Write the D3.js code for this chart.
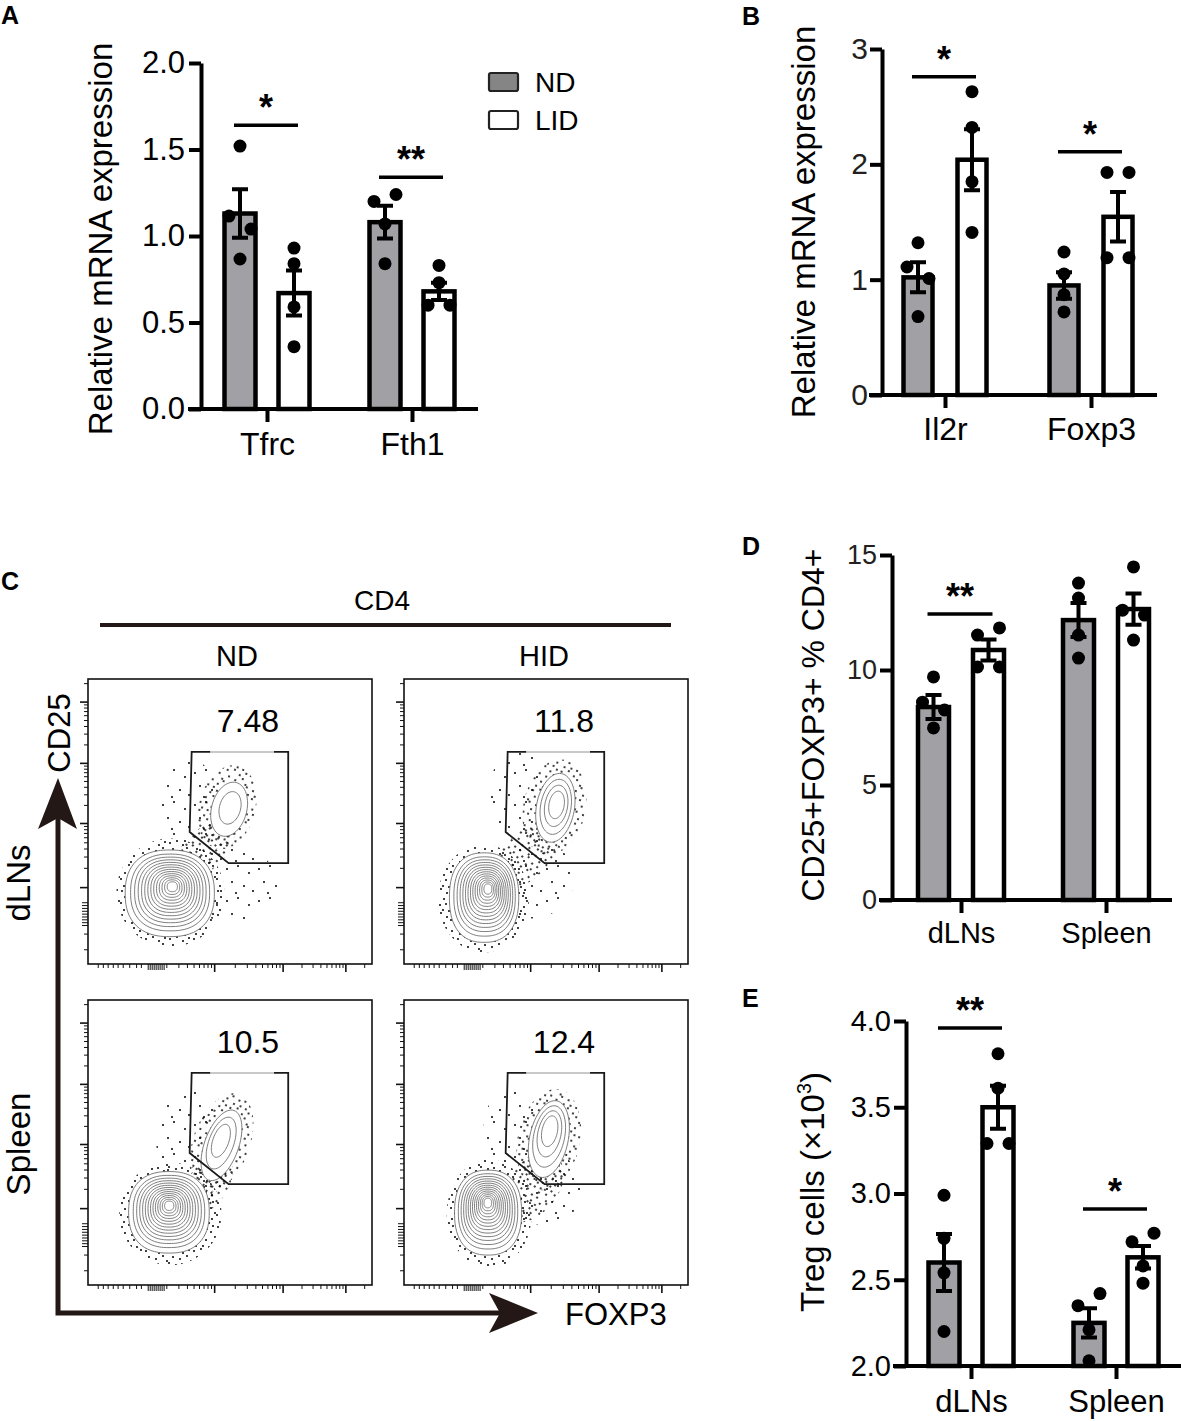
<!DOCTYPE html>
<html>
<head>
<meta charset="utf-8">
<script src="https://cdn.jsdelivr.net/npm/d3@7"></script>
<style>
body { margin: 0; background: #fff; }
svg { display: block; }
</style>
</head>
<body>
<svg id="fig" width="1181" height="1421"></svg>
<script>
// === DATA: A (qPCR, iron genes) ===
const aCats = ['Tfrc', 'Fth1']
const aTicks = [0, 0.5, 1.0, 1.5, 2.0]
const aNdMean = [1.13, 1.08]
const aNdSem = [0.14, 0.095]
const aLidMean = [0.67, 0.68]
const aLidSem = [0.13, 0.05]
const aNdPts = [[1.52, 1.115, 1.04, 0.867], [1.20, 1.24, 1.07, 0.84]]
const aLidPts = [[0.93, 0.84, 0.59, 0.36], [0.83, 0.73, 0.60, 0.60]]
const aNdJit = [[0, -1, 1, 0], [-1, 1, 0, 0]]
const aLidJit = [[0, 0, 0, 0], [0, 0, -1, 1]]
const aSig = [{ cat: 'Tfrc', y: 1.64, t: '*' }, { cat: 'Fth1', y: 1.34, t: '**' }]

// === DATA: B (qPCR, Treg genes) ===
const bCats = ['Il2r', 'Foxp3']
const bTicks = [0, 1, 2, 3]
const bNdMean = [1.02, 0.95]
const bNdSem = [0.13, 0.115]
const bLidMean = [2.04, 1.545]
const bLidSem = [0.265, 0.215]
const bNdPts = [[1.32, 1.11, 1.01, 0.68], [1.24, 1.05, 0.87, 0.72]]
const bLidPts = [[2.63, 2.32, 1.85, 1.41], [1.93, 1.93, 1.19, 1.19]]
const bNdJit = [[0, -1, 1, 0], [0, 0, 0, 0]]
const bLidJit = [[0, 0, 0, 0], [-1, 1, -1, 1]]
const bSig = [{ cat: 'Il2r', y: 2.76, t: '*' }, { cat: 'Foxp3', y: 2.11, t: '*' }]

// === DATA: D (% Treg of CD4) ===
const dCats = ['dLNs', 'Spleen']
const dTicks = [0, 5, 10, 15]
const dNdMean = [8.39, 12.17]
const dNdSem = [0.52, 0.74]
const dLidMean = [10.87, 12.65]
const dLidSem = [0.46, 0.68]
const dNdPts = [[9.70, 8.6, 8.26, 7.48], [13.78, 13.13, 11.52, 10.52]]
const dLidPts = [[11.83, 11.52, 10.13, 10.13], [14.48, 12.6, 12.39, 11.3]]
const dNdJit = [[0, -1, 1, 0], [0, 0, 0, 0]]
const dLidJit = [[1, -1, -1, 1], [0, -1, 1, 0]]
const dSig = [{ cat: 'dLNs', y: 12.43, t: '**' }]

// === DATA: E (Treg counts) ===
const eCats = ['dLNs', 'Spleen']
const eTicks = [2.0, 2.5, 3.0, 3.5, 4.0]
const eNdMean = [2.60, 2.25]
const eNdSem = [0.165, 0.085]
const eLidMean = [3.50, 2.63]
const eLidSem = [0.125, 0.065]
const eNdPts = [[2.99, 2.74, 2.54, 2.20], [2.42, 2.35, 2.21, 2.03]]
const eLidPts = [[3.81, 3.61, 3.29, 3.29], [2.77, 2.72, 2.58, 2.48]]
const eNdJit = [[0, 0, 0, 0], [1, -1, 0, 0]]
const eLidJit = [[0, 0, -1, 1], [1, -1, 0, 0]]
const eSig = [{ cat: 'dLNs', y: 3.96, t: '**' }, { cat: 'Spleen', y: 2.91, t: '*' }]

// === DATA: C (flow plots) ===
const flowCols = ['ND', 'HID']
const flowRows = ['dLNs', 'Spleen']
const flowPct = [['7.48', '11.8'], ['10.5', '12.4']]
// main CD25- blob: outer centre x,y, radius x,y, density peak x,y, levels (box fractions)
const flowMain = [
    [[0.288, 0.752, 0.157, 0.152, 0.298, 0.726, 14], [0.282, 0.767, 0.122, 0.157, 0.297, 0.733, 14]],
    [[0.285, 0.745, 0.142, 0.143, 0.286, 0.719, 14], [0.296, 0.746, 0.118, 0.149, 0.295, 0.708, 14]]
]
// Treg blob: centre x,y, radius x,y, tilt, peak x,y, levels
const flowTreg = [
    [[0.497, 0.457, 0.062, 0.097, 15, 0.505, 0.445, 2], [0.533, 0.452, 0.067, 0.122, 10, 0.540, 0.435, 4]],
    [[0.470, 0.510, 0.060, 0.130, 20, 0.466, 0.480, 3], [0.510, 0.488, 0.068, 0.137, 12, 0.515, 0.442, 4]]
]
// event clouds: centre x,y, radius x,y, tilt, density
const flowClouds = [
    [
        [[0.29, 0.75, 0.19, 0.19, 0, 'd'], [0.49, 0.45, 0.10, 0.15, 15, 'd'], [0.41, 0.60, 0.07, 0.14, 45, 'd'], [0.50, 0.72, 0.17, 0.13, 0, 's'], [0.36, 0.45, 0.10, 0.17, 0, 's']],
        [[0.28, 0.77, 0.16, 0.19, 0, 'd'], [0.53, 0.45, 0.11, 0.17, 12, 'd'], [0.43, 0.62, 0.08, 0.15, 45, 'd'], [0.45, 0.70, 0.15, 0.14, 0, 's'], [0.40, 0.40, 0.10, 0.15, 0, 's']]
    ],
    [
        [[0.29, 0.75, 0.18, 0.18, 0, 'd'], [0.47, 0.50, 0.10, 0.18, 20, 'd'], [0.42, 0.65, 0.07, 0.12, 35, 'd'], [0.36, 0.50, 0.12, 0.18, 0, 's']],
        [[0.30, 0.75, 0.15, 0.19, 0, 'd'], [0.51, 0.49, 0.11, 0.18, 12, 'd'], [0.45, 0.66, 0.09, 0.14, 40, 'd'], [0.49, 0.66, 0.14, 0.13, 0, 's'], [0.38, 0.45, 0.10, 0.14, 0, 's']]
    ]
]
const flowGate = [[0.365, 0.256], [0.705, 0.256], [0.705, 0.646], [0.495, 0.646], [0.358, 0.537]]
const flowXMajor = [0.446, 0.687, 0.908]
const flowXLin = [0.036, 0.054, 0.071, 0.089, 0.106, 0.124, 0.147, 0.171, 0.188]
const flowXZero = [0.212, 0.219, 0.226, 0.233, 0.240, 0.247, 0.254, 0.261, 0.268]
const flowYMajor = [0.732, 0.507, 0.296, 0.081]
const flowYZero = [0.785, 0.795, 0.805, 0.815, 0.825, 0.835, 0.845, 0.855, 0.865]
const flowYLin = [0.895, 0.95]

// === STYLE ===
const FONT = 'Arial, "Liberation Sans", Helvetica, sans-serif'
const ND_FILL = '#a1a1a5'
const DARK = '#231815'
const JIT = 11

const svg = d3.select('#fig').attr('font-family', FONT)
const defs = svg.append('defs')

// === BAR PANELS ===
function drawBars(p) {
    const g = svg.append('g')
    const y = d3.scaleLinear().domain(p.domain).range([p.yBottom, p.yTop])
    const x = d3.scalePoint().domain(p.cats).range(p.catRange)

    const series = [
        { mean: p.ndMean, sem: p.ndSem, pts: p.ndPts, jit: p.ndJit, fill: ND_FILL, dx: -p.offset },
        { mean: p.lidMean, sem: p.lidSem, pts: p.lidPts, jit: p.lidJit, fill: '#fff', dx: p.offset }
    ]

    series.forEach(s => {
        const gg = g.append('g')
        gg.selectAll('rect').data(p.cats).join('rect')
            .attr('x', c => x(c) + s.dx - p.barW / 2)
            .attr('y', (c, i) => y(s.mean[i]))
            .attr('width', p.barW)
            .attr('height', (c, i) => y(p.domain[0]) - y(s.mean[i]))
            .attr('fill', s.fill)
            .attr('stroke', '#000')
            .attr('stroke-width', 4.5)

        const dots = p.cats.flatMap((c, i) =>
            s.pts[i].map((v, j) => ({ x: x(c) + s.dx + s.jit[i][j] * JIT, v })))
        gg.selectAll('circle').data(dots).join('circle')
            .attr('cx', d => d.x)
            .attr('cy', d => y(d.v))
            .attr('r', 6.5)
            .attr('fill', '#000')

        gg.selectAll('path.err').data(p.cats).join('path')
            .attr('class', 'err')
            .attr('d', (c, i) => {
                const cx = x(c) + s.dx
                const lo = y(s.mean[i] - s.sem[i]), hi = y(s.mean[i] + s.sem[i])
                return `M${cx},${lo}V${hi}M${cx - 8},${hi}H${cx + 8}M${cx - 8},${lo}H${cx + 8}`
            })
            .attr('fill', 'none')
            .attr('stroke', '#000')
            .attr('stroke-width', 4)
    })

    // significance
    p.sig.forEach(s => {
        const x1 = x(s.cat) - p.offset - 6, x2 = x(s.cat) + p.offset + 4, yy = y(s.y)
        g.append('line')
            .attr('x1', x1).attr('x2', x2).attr('y1', yy).attr('y2', yy)
            .attr('stroke', '#000').attr('stroke-width', 3.5)
        g.append('text')
            .attr('x', (x1 + x2) / 2).attr('y', yy - 5)
            .attr('text-anchor', 'middle')
            .attr('font-size', 36).attr('font-weight', 'bold')
            .text(s.t)
    })

    // axes
    const yAx = g.append('g')
        .attr('transform', `translate(${p.axisX},0)`)
        .call(d3.axisLeft(y).tickValues(p.ticks).tickFormat(p.fmt)
            .tickSize(12).tickSizeOuter(0).tickPadding(p.tickPad))
        .attr('font-family', FONT).attr('font-size', p.tickFs)
    yAx.select('.domain').attr('stroke-width', 4)
    yAx.selectAll('.tick line').attr('stroke-width', 4)
    yAx.selectAll('.tick text').attr('fill', p.tickColor)

    g.append('line')
        .attr('x1', p.axisX - 13).attr('x2', p.xEnd)
        .attr('y1', p.yBottom).attr('y2', p.yBottom)
        .attr('stroke', '#000').attr('stroke-width', 4)

    const xAx = g.append('g')
        .attr('transform', `translate(0,${p.yBottom})`)
        .call(d3.axisBottom(x).tickSize(13).tickSizeOuter(0)
            .tickPadding(p.catBase - p.yBottom - 13 - 0.71 * p.catFs))
        .attr('font-family', FONT).attr('font-size', p.catFs)
    xAx.select('.domain').remove()
    xAx.selectAll('.tick line').attr('stroke-width', 4)
    xAx.selectAll('.tick text').attr('fill', '#000')

    const lab = g.append('text')
        .attr('transform', `translate(${p.yLabelX},${p.yLabelY}) rotate(-90)`)
        .attr('text-anchor', 'middle')
        .attr('font-size', p.yLabelFs)
    if (p.yLabelSup) {
        lab.append('tspan').text(p.yLabel)
        lab.append('tspan').attr('dy', -13).attr('font-size', p.yLabelFs * 0.6).text(p.yLabelSup)
        lab.append('tspan').attr('dy', 13).text(')')
    } else {
        lab.text(p.yLabel)
    }
    return g
}

drawBars({
    cats: aCats, domain: [0, 2], ticks: aTicks, fmt: d3.format('.1f'),
    ndMean: aNdMean, ndSem: aNdSem, lidMean: aLidMean, lidSem: aLidSem,
    ndPts: aNdPts, lidPts: aLidPts, ndJit: aNdJit, lidJit: aLidJit, sig: aSig,
    axisX: 201, yTop: 63, yBottom: 409, xEnd: 478, catRange: [267, 412], offset: 27, barW: 31,
    tickFs: 31, tickPad: 4, tickColor: '#000', catFs: 32, catBase: 455,
    yLabel: 'Relative mRNA expression', yLabelX: 112, yLabelY: 239, yLabelFs: 33
})

drawBars({
    cats: bCats, domain: [0, 3], ticks: bTicks, fmt: d3.format('d'),
    ndMean: bNdMean, ndSem: bNdSem, lidMean: bLidMean, lidSem: bLidSem,
    ndPts: bNdPts, lidPts: bLidPts, ndJit: bNdJit, lidJit: bLidJit, sig: bSig,
    axisX: 882, yTop: 49, yBottom: 395, xEnd: 1157, catRange: [945, 1091], offset: 27, barW: 29,
    tickFs: 30, tickPad: 2, tickColor: '#231f20', catFs: 32, catBase: 440,
    yLabel: 'Relative mRNA expression', yLabelX: 815, yLabelY: 222, yLabelFs: 33
})

drawBars({
    cats: dCats, domain: [0, 15], ticks: dTicks, fmt: d3.format('d'),
    ndMean: dNdMean, ndSem: dNdSem, lidMean: dLidMean, lidSem: dLidSem,
    ndPts: dNdPts, lidPts: dLidPts, ndJit: dNdJit, lidJit: dLidJit, sig: dSig,
    axisX: 892, yTop: 555, yBottom: 900, xEnd: 1172, catRange: [961, 1106], offset: 27.5, barW: 31,
    tickFs: 27, tickPad: 3, tickColor: '#231f20', catFs: 29, catBase: 943,
    yLabel: 'CD25+FOXP3+ % CD4+', yLabelX: 824, yLabelY: 725, yLabelFs: 32
})

drawBars({
    cats: eCats, domain: [2, 4], ticks: eTicks, fmt: d3.format('.1f'),
    ndMean: eNdMean, ndSem: eNdSem, lidMean: eLidMean, lidSem: eLidSem,
    ndPts: eNdPts, lidPts: eLidPts, ndJit: eNdJit, lidJit: eLidJit, sig: eSig,
    axisX: 906, yTop: 1021, yBottom: 1366, xEnd: 1181, catRange: [971, 1116], offset: 27, barW: 31,
    tickFs: 29, tickPad: 3, tickColor: '#000', catFs: 31, catBase: 1412,
    yLabel: 'Treg cells (×10', yLabelSup: '3', yLabelX: 824, yLabelY: 1192, yLabelFs: 33
})

// legend (panel A)
const legend = svg.append('g').attr('transform', 'translate(489,73)')
const legendItems = [{ name: 'ND', fill: '#858585' }, { name: 'LID', fill: '#fff' }]
legend.selectAll('rect').data(legendItems).join('rect')
    .attr('x', 0).attr('y', (d, i) => i * 38)
    .attr('width', 29).attr('height', 18).attr('rx', 2)
    .attr('fill', d => d.fill).attr('stroke', '#222').attr('stroke-width', 2.2)
legend.selectAll('text').data(legendItems).join('text')
    .attr('x', 46).attr('y', (d, i) => 19 + i * 38)
    .attr('font-size', 28)
    .text(d => d.name)

// panel letters
const letters = [['A', 1, 24], ['B', 742, 25], ['C', 1, 590], ['D', 742, 555], ['E', 742, 1007]]
svg.selectAll('text.letter').data(letters).join('text')
    .attr('class', 'letter')
    .attr('x', d => d[1]).attr('y', d => d[2])
    .attr('font-size', 25).attr('font-weight', 'bold')
    .text(d => d[0])

// === FLOW PANEL (C) ===
// event speckle textures
const dense = defs.append('pattern').attr('id', 'speckDense')
    .attr('patternUnits', 'userSpaceOnUse').attr('width', 24).attr('height', 24)
dense.selectAll('circle')
    .data([[2, 3], [9, 1], [15, 5], [21, 2], [5, 9], [12, 11], [19, 8], [23, 13], [1, 15], [8, 17], [14, 16], [20, 19], [4, 22], [11, 22], [17, 23]])
    .join('circle').attr('cx', d => d[0]).attr('cy', d => d[1]).attr('r', 1).attr('fill', '#000')
const sparse = defs.append('pattern').attr('id', 'speckSparse')
    .attr('patternUnits', 'userSpaceOnUse').attr('width', 32).attr('height', 32)
sparse.selectAll('circle')
    .data([[3, 5], [14, 2], [25, 9], [8, 18], [20, 22], [29, 27], [12, 29]])
    .join('circle').attr('cx', d => d[0]).attr('cy', d => d[1]).attr('r', 1).attr('fill', '#000')

function blobPath(cx, cy, rx, ry, rot, e) {
    const t = rot * Math.PI / 180
    const pts = d3.range(64).map(i => {
        const a = i / 64 * 2 * Math.PI
        const c = Math.cos(a), s = Math.sin(a)
        const px = rx * Math.sign(c) * Math.pow(Math.abs(c), 2 / e)
        const py = ry * Math.sign(s) * Math.pow(Math.abs(s), 2 / e)
        return [cx + px * Math.cos(t) - py * Math.sin(t), cy + px * Math.sin(t) + py * Math.cos(t)]
    })
    return d3.line().curve(d3.curveCardinalClosed)(pts)
}

const flowBox = { x: [88, 404], y: [679, 1000], w: 284, h: 285 }

function flowPlot(r, c) {
    const x0 = flowBox.x[c], y0 = flowBox.y[r], w = flowBox.w, h = flowBox.h
    const fx = d3.scaleLinear().domain([0, 1]).range([x0, x0 + w])
    const fy = d3.scaleLinear().domain([0, 1]).range([y0, y0 + h])
    const g = svg.append('g')
    const id = `fp${r}${c}`

    defs.append('clipPath').attr('id', id).append('rect')
        .attr('x', x0).attr('y', y0).attr('width', w).attr('height', h)
    const inner = g.append('g').attr('clip-path', `url(#${id})`)

    // events
    inner.selectAll('ellipse').data(flowClouds[r][c]).join('ellipse')
        .attr('cx', d => fx(d[0])).attr('cy', d => fy(d[1]))
        .attr('rx', d => d[2] * w).attr('ry', d => d[3] * h)
        .attr('transform', d => `rotate(${d[4]},${fx(d[0])},${fy(d[1])})`)
        .attr('fill', d => d[5] === 'd' ? 'url(#speckDense)' : 'url(#speckSparse)')

    // contours
    const [mx, my, mrx, mry, mpx, mpy, mn] = flowMain[r][c]
    const [tx, ty, trx, try_, trot, tpx, tpy, tn] = flowTreg[r][c]
    const mainLevels = d3.range(mn).map(i => {
        const k = 1 - 0.94 * Math.pow(i / mn, 0.8)
        return blobPath(fx(mpx + (mx - mpx) * k), fy(mpy + (my - mpy) * k), mrx * w * k, mry * h * k, 0, 2.4)
    })
    const tregLevels = d3.range(tn).map(i => {
        const k = 1 - 0.8 * i / tn
        return blobPath(fx(tpx + (tx - tpx) * k), fy(tpy + (ty - tpy) * k), trx * w * k, try_ * h * k, trot, 2)
    })
    inner.append('path').attr('d', mainLevels[0]).attr('fill', '#fff')
    inner.append('path').attr('d', tregLevels[0]).attr('fill', '#fff')
    inner.selectAll('path.lvl').data(mainLevels.concat(tregLevels)).join('path')
        .attr('class', 'lvl')
        .attr('d', d => d)
        .attr('fill', 'none')
        .attr('stroke', '#6f6f6f')
        .attr('stroke-width', 0.9)

    // gate
    g.append('path')
        .attr('d', d3.line().curve(d3.curveLinearClosed)(flowGate.map(p => [fx(p[0]), fy(p[1])])))
        .attr('fill', 'none').attr('stroke', '#1a1a1a').attr('stroke-width', 1.8)
    g.append('line')
        .attr('x1', fx(0.43)).attr('x2', fx(0.655))
        .attr('y1', fy(flowGate[0][1])).attr('y2', fy(flowGate[0][1]))
        .attr('stroke', '#c9c9c9').attr('stroke-width', 2)

    // box
    g.append('rect').attr('x', x0).attr('y', y0).attr('width', w).attr('height', h)
        .attr('fill', 'none').attr('stroke', '#111').attr('stroke-width', 1.6)

    // y ticks (biexponential-like)
    const yMinor = []
    for (let i = 0; i < flowYMajor.length - 1; i++) {
        for (let k = 2; k <= 9; k++) yMinor.push(flowYMajor[i] + Math.log10(k) * (flowYMajor[i + 1] - flowYMajor[i]))
    }
    const yStep = flowYMajor[2] - flowYMajor[3]
    yMinor.push(flowYMajor[3] - Math.log10(2) * yStep)
    const yTicks = flowYMajor.map(v => [v, 8])
        .concat(yMinor.map(v => [v, 4]))
        .concat(flowYZero.map(v => [v, 6]))
        .concat(flowYLin.map(v => [v, 4]))
    g.append('g').selectAll('line').data(yTicks).join('line')
        .attr('x1', x0).attr('x2', d => x0 - d[1])
        .attr('y1', d => fy(d[0])).attr('y2', d => fy(d[0]))
        .attr('stroke', '#111').attr('stroke-width', d => d[1] === 8 ? 1.6 : 1)

    // x ticks
    const xDec = [0.205].concat(flowXMajor)
    const xMinor = []
    for (let i = 0; i < xDec.length - 1; i++) {
        for (let k = 2; k <= 9; k++) xMinor.push(xDec[i] + Math.log10(k) * (xDec[i + 1] - xDec[i]))
    }
    xMinor.push(flowXMajor[2] + Math.log10(2) * 0.22)
    const xTicks = flowXMajor.map(v => [v, 8])
        .concat(xMinor.map(v => [v, 4]))
        .concat(flowXZero.map(v => [v, 6]))
        .concat(flowXLin.map(v => [v, 4]))
    g.append('g').selectAll('line').data(xTicks).join('line')
        .attr('x1', d => fx(d[0])).attr('x2', d => fx(d[0]))
        .attr('y1', y0 + h).attr('y2', d => y0 + h + d[1])
        .attr('stroke', '#111').attr('stroke-width', d => d[1] === 8 ? 1.6 : 1)

    // gate frequency
    g.append('text')
        .attr('x', x0 + 160).attr('y', y0 + 53)
        .attr('text-anchor', 'middle').attr('font-size', 32)
        .text(flowPct[r][c])
}

flowRows.forEach((row, r) => flowCols.forEach((col, c) => flowPlot(r, c)))

// column / group headers
svg.append('text').attr('x', 382).attr('y', 610).attr('text-anchor', 'middle').attr('font-size', 28).text('CD4')
svg.append('line').attr('x1', 100).attr('x2', 671).attr('y1', 625).attr('y2', 625)
    .attr('stroke', DARK).attr('stroke-width', 4)
svg.selectAll('text.col').data(flowCols).join('text')
    .attr('class', 'col')
    .attr('x', (d, i) => [237, 544][i]).attr('y', 666)
    .attr('text-anchor', 'middle').attr('font-size', 29)
    .text(d => d)
svg.selectAll('text.row').data(flowRows).join('text')
    .attr('class', 'row')
    .attr('transform', (d, i) => `translate(30,${[883, 1144][i]}) rotate(-90)`)
    .attr('text-anchor', 'middle').attr('font-size', 33)
    .text(d => d)

// axis arrows
svg.append('path').attr('d', 'M58,815V1313H502')
    .attr('fill', 'none').attr('stroke', DARK).attr('stroke-width', 5)
svg.append('path').attr('d', 'M58,778L77,829L58,818L38,829Z').attr('fill', DARK)
svg.append('path').attr('d', 'M538,1313L489,1293L500,1313L489,1333Z').attr('fill', DARK)
svg.append('text').attr('transform', 'translate(70,733) rotate(-90)')
    .attr('text-anchor', 'middle').attr('font-size', 31).text('CD25')
svg.append('text').attr('x', 565).attr('y', 1325).attr('font-size', 31).text('FOXP3')
</script>
</body>
</html>
